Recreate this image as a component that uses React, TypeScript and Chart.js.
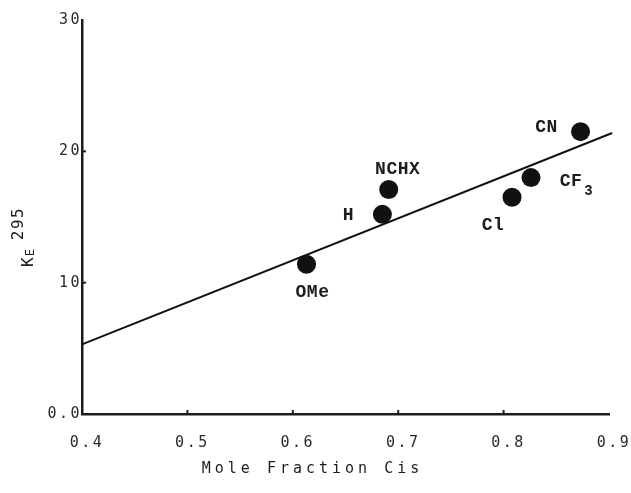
import React, { useEffect, useRef } from 'react';
import { Chart, registerables } from 'chart.js';

Chart.register(...registerables);

// ---- data ----
const SUBSTITUENTS = ['OMe', 'H', 'NCHX', 'Cl', 'CF3', 'CN'];
const MOLE_FRACTION_CIS = [0.613, 0.685, 0.691, 0.808, 0.826, 0.873];
const KE_295 = [11.4, 15.2, 17.1, 16.5, 18.0, 21.5];
const FIT_X = [0.4, 0.903];
const FIT_Y = [5.3, 21.4];
const X_TICKS = [0.4, 0.5, 0.6, 0.7, 0.8, 0.9];
const Y_TICKS = [0, 10, 20, 30];
const X_TITLE = 'Mole Fraction Cis';

// label placement (style) relative to each dot, in px
const LABEL_OFFSETS: Record<string, [number, number]> = {
  OMe: [6, 28],
  H: [-34, 1],
  NCHX: [9, -20],
  Cl: [-19, 28],
  CF3: [40, 4],
  CN: [-34, -4],
};

const INK = '#1c1c1c';
const MONO = '"DejaVu Sans Mono", monospace';
const TYPE = '"Liberation Mono", monospace';

export default function App() {
  const ref = useRef<HTMLCanvasElement>(null);

  useEffect(() => {
    const canvas = ref.current!;

    const spacingPlugin = {
      id: 'spacing',
      beforeDraw(chart: any) {
        chart.ctx.letterSpacing = '2.5px';
      },
    };

    const inwardTicks = {
      id: 'inwardTicks',
      afterDraw(chart: any) {
        const { ctx, chartArea, scales } = chart;
        ctx.save();
        ctx.strokeStyle = INK;
        ctx.lineWidth = 2;
        X_TICKS.slice(1, -1).forEach((v) => {
          const px = scales.x.getPixelForValue(v);
          ctx.beginPath();
          ctx.moveTo(px, chartArea.bottom);
          ctx.lineTo(px, chartArea.bottom - 4);
          ctx.stroke();
        });
        Y_TICKS.slice(1, -1).forEach((v) => {
          const py = scales.y.getPixelForValue(v);
          ctx.beginPath();
          ctx.moveTo(chartArea.left, py);
          ctx.lineTo(chartArea.left + 4, py);
          ctx.stroke();
        });
        ctx.restore();
      },
    };

    const pointLabels = {
      id: 'pointLabels',
      afterDatasetsDraw(chart: any) {
        const { ctx } = chart;
        const meta = chart.getDatasetMeta(0);
        ctx.save();
        ctx.fillStyle = INK;
        ctx.letterSpacing = '0.5px';
        ctx.textBaseline = 'middle';
        meta.data.forEach((el: any, i: number) => {
          const name = SUBSTITUENTS[i];
          const [dx, dy] = LABEL_OFFSETS[name];
          ctx.font = `bold 18px ${TYPE}`;
          if (name === 'CF3') {
            ctx.textAlign = 'center';
            ctx.fillText('CF', el.x + dx, el.y + dy);
            const w = ctx.measureText('CF').width;
            ctx.font = `bold 14px ${TYPE}`;
            ctx.textAlign = 'left';
            ctx.fillText('3', el.x + dx + w / 2 + 2, el.y + dy + 10);
          } else {
            ctx.textAlign = 'center';
            ctx.fillText(name, el.x + dx, el.y + dy);
          }
        });
        ctx.restore();
      },
    };

    const titles = {
      id: 'titles',
      afterDraw(chart: any) {
        const { ctx, chartArea } = chart;
        // x-axis title
        ctx.save();
        ctx.fillStyle = INK;
        ctx.textAlign = 'center';
        ctx.textBaseline = 'middle';
        ctx.letterSpacing = '4px';
        ctx.font = `15px ${MONO}`;
        ctx.fillText(X_TITLE, chart.width / 2 - 3, chartArea.bottom + 55);
        ctx.restore();

        // y-axis title K_E^295
        const cy = (chartArea.top + chartArea.bottom) / 2;
        ctx.save();
        ctx.translate(33, cy + 50);
        ctx.rotate(-Math.PI / 2);
        ctx.fillStyle = INK;
        ctx.textAlign = 'left';
        ctx.textBaseline = 'alphabetic';
        ctx.letterSpacing = '0px';
        ctx.font = `16px ${MONO}`;
        ctx.fillText('K', 0, 0);
        const kw = ctx.measureText('K').width;
        ctx.font = `12px ${MONO}`;
        ctx.fillText('E', kw + 1, 1);
        const ew = ctx.measureText('E').width;
        ctx.letterSpacing = '1.5px';
        ctx.font = `16px ${MONO}`;
        ctx.fillText('295', kw + ew + 10, -10);
        ctx.restore();
      },
    };

    const chart = new Chart(canvas, {
      type: 'scatter',
      data: {
        datasets: [
          {
            label: 'K_E^295',
            data: MOLE_FRACTION_CIS.map((x, i) => ({ x, y: KE_295[i] })),
            backgroundColor: '#111',
            borderWidth: 0,
            pointRadius: 9.5,
            order: 0,
          },
          {
            label: 'fit',
            data: FIT_X.map((x, i) => ({ x, y: FIT_Y[i] })),
            showLine: true,
            borderColor: '#111',
            borderWidth: 2,
            pointRadius: 0,
            clip: false,
            order: 1,
          } as any,
        ],
      },
      options: {
        responsive: false,
        animation: false,
        layout: { padding: { top: 20, right: 22, bottom: 0, left: 0 } },
        plugins: {
          legend: { display: false },
          tooltip: { enabled: false },
        },
        scales: {
          x: {
            type: 'linear',
            min: 0.4,
            max: 0.9,
            afterBuildTicks: (scale: any) => {
              scale.ticks = X_TICKS.map((value) => ({ value }));
            },
            afterFit: (scale: any) => {
              scale.height = 79;
              scale.paddingLeft = 0;
              scale.paddingRight = 0;
            },
            grid: { display: false, drawTicks: false },
            border: { display: true, color: INK, width: 2.5 },
            ticks: {
              autoSkip: false,
              maxRotation: 0,
              padding: 20,
              labelOffset: 5,
              color: '#2a2a2a',
              font: { family: MONO, size: 15 },
              callback: (v: any) => Number(v).toFixed(1),
            },
          },
          y: {
            type: 'linear',
            min: 0,
            max: 30,
            afterBuildTicks: (scale: any) => {
              scale.ticks = Y_TICKS.map((value) => ({ value }));
            },
            afterFit: (scale: any) => {
              scale.width = 82;
              scale.paddingTop = 0;
              scale.paddingBottom = 0;
            },
            grid: { display: false, drawTicks: false },
            border: { display: true, color: INK, width: 2.5 },
            ticks: {
              padding: 0,
              color: '#2a2a2a',
              font: { family: MONO, size: 15 },
              callback: (v: any) => (Number(v) === 0 ? '0.0' : String(v)),
            },
          },
        },
      },
      plugins: [spacingPlugin, inwardTicks, pointLabels, titles],
    });

    return () => chart.destroy();
  }, []);

  return (
    <div style={{ position: 'fixed', left: 0, top: 0, width: 631, height: 493, background: '#fff' }}>
      <canvas ref={ref} width={631} height={493} style={{ display: 'block' }} />
    </div>
  );
}
